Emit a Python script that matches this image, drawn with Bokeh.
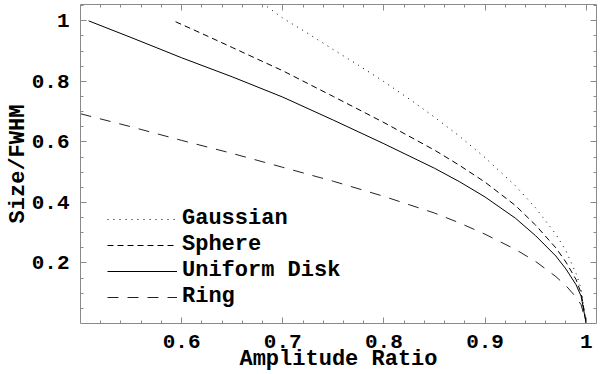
from bokeh.plotting import figure
from bokeh.models import (Range1d, LinearAxis, FixedTicker, CustomJSTickFormatter, Legend)
from bokeh.embed import file_html
from bokeh.resources import INLINE

# ---- data ----
gauss_x = [0.675, 0.70, 0.725, 0.75, 0.775, 0.80, 0.825, 0.85, 0.875, 0.90, 0.93, 0.95, 0.97, 0.98, 0.99, 0.995, 1.0]
gauss_y = [1.07, 1.009, 0.958, 0.905, 0.853, 0.799, 0.742, 0.682, 0.618, 0.548, 0.455, 0.382, 0.295, 0.240, 0.165, 0.115, 0.0]

sphere_x = [0.594, 0.62, 0.65, 0.70, 0.75, 0.80, 0.85, 0.875, 0.90, 0.93, 0.95, 0.97, 0.98, 0.99, 0.995, 1.0]
sphere_y = [0.997, 0.958, 0.912, 0.835, 0.750, 0.664, 0.573, 0.522, 0.467, 0.390, 0.325, 0.250, 0.203, 0.145, 0.100, 0.0]

disk_x = [0.508, 0.55, 0.60, 0.65, 0.70, 0.75, 0.80, 0.85, 0.875, 0.90, 0.93, 0.95, 0.97, 0.98, 0.99, 0.995, 1.0]
disk_y = [1.000, 0.945, 0.878, 0.815, 0.748, 0.672, 0.594, 0.513, 0.468, 0.418, 0.348, 0.290, 0.223, 0.180, 0.128, 0.090, 0.0]

ring_x = [0.5, 0.55, 0.60, 0.65, 0.70, 0.75, 0.80, 0.85, 0.875, 0.90, 0.93, 0.95, 0.97, 0.98, 0.99, 0.995, 1.0]
ring_y = [0.693, 0.650, 0.605, 0.562, 0.516, 0.470, 0.420, 0.365, 0.332, 0.295, 0.245, 0.205, 0.155, 0.125, 0.087, 0.062, 0.0]

series_names = ["Gaussian", "Sphere", "Uniform Disk", "Ring"]

x_major = [0.6, 0.7, 0.8, 0.9, 1.0]
x_minor = [round(0.5 + 0.02 * i, 2) for i in range(1, 26)]
y_major = [0.2, 0.4, 0.6, 0.8, 1.0]
y_minor = [round(0.05 * i, 2) for i in range(1, 22)]

x_title = "Amplitude Ratio"
y_title = "Size/FWHM"

FONT = "Liberation Mono"
AX = "#8a8a8a"

p = figure(width=600, height=374, output_backend="svg", toolbar_location=None,
           x_range=Range1d(0.5, 1.0102), y_range=Range1d(0, 1.054),
           x_axis_type=None, y_axis_type=None,
           min_border_left=80, min_border_right=4, min_border_top=4, min_border_bottom=50)
p.outline_line_color = None
p.xgrid.visible = False
p.ygrid.visible = False
p.background_fill_color = "white"
p.border_fill_color = "white"

fmt = CustomJSTickFormatter(code="return tick.toFixed(1).replace(/\\.0$/, '');")


def style_axis(ax, show_labels):
    ax.axis_line_color = AX
    ax.axis_line_width = 1
    ax.major_tick_line_color = AX
    ax.minor_tick_line_color = AX
    ax.major_tick_in = 6
    ax.major_tick_out = 0
    ax.minor_tick_in = 3
    ax.minor_tick_out = 0
    if show_labels:
        ax.major_label_text_font = FONT
        ax.major_label_text_font_style = "bold"
        ax.major_label_text_font_size = "21px"
        ax.major_label_text_color = "black"
        ax.formatter = fmt
        ax.axis_label_text_font = FONT
        ax.axis_label_text_font_style = "bold"
        ax.axis_label_text_font_size = "22px"
        ax.axis_label_text_color = "black"
    else:
        ax.major_label_text_font_size = "0px"
        ax.major_label_standoff = 0
        ax.major_label_text_alpha = 0


xb = LinearAxis(ticker=FixedTicker(ticks=x_major, minor_ticks=x_minor), axis_label=x_title)
style_axis(xb, True)
xb.major_label_standoff = 11
xb.axis_label_standoff = -4
p.add_layout(xb, "below")

xt = LinearAxis(ticker=FixedTicker(ticks=x_major, minor_ticks=x_minor))
style_axis(xt, False)
p.add_layout(xt, "above")

yl = LinearAxis(ticker=FixedTicker(ticks=y_major, minor_ticks=y_minor), axis_label=y_title)
style_axis(yl, True)
yl.major_label_standoff = 11
yl.axis_label_standoff = -2
p.add_layout(yl, "left")

yr = LinearAxis(ticker=FixedTicker(ticks=y_major, minor_ticks=y_minor))
style_axis(yr, False)
p.add_layout(yr, "right")

r_g = p.line(gauss_x, gauss_y, line_color="black", line_width=1, line_dash="1 5")
r_s = p.line(sphere_x, sphere_y, line_color="black", line_width=1, line_dash="6 4")
r_u = p.line(disk_x, disk_y, line_color="black", line_width=1)
r_r = p.line(ring_x, ring_y, line_color="#222222", line_width=1, line_dash="11 9")

legend = Legend(items=[(series_names[0], [r_g]), (series_names[1], [r_s]),
                       (series_names[2], [r_u]), (series_names[3], [r_r])],
                location=(27, 14), orientation="vertical",
                glyph_width=70, glyph_height=20, label_height=20,
                label_standoff=5, spacing=1, padding=0, margin=0,
                border_line_color=None, background_fill_alpha=0,
                label_text_font=FONT, label_text_font_style="bold",
                label_text_font_size="22px", label_text_color="black")
p.add_layout(legend)

open("out.html", "w").write(file_html(p, INLINE))
